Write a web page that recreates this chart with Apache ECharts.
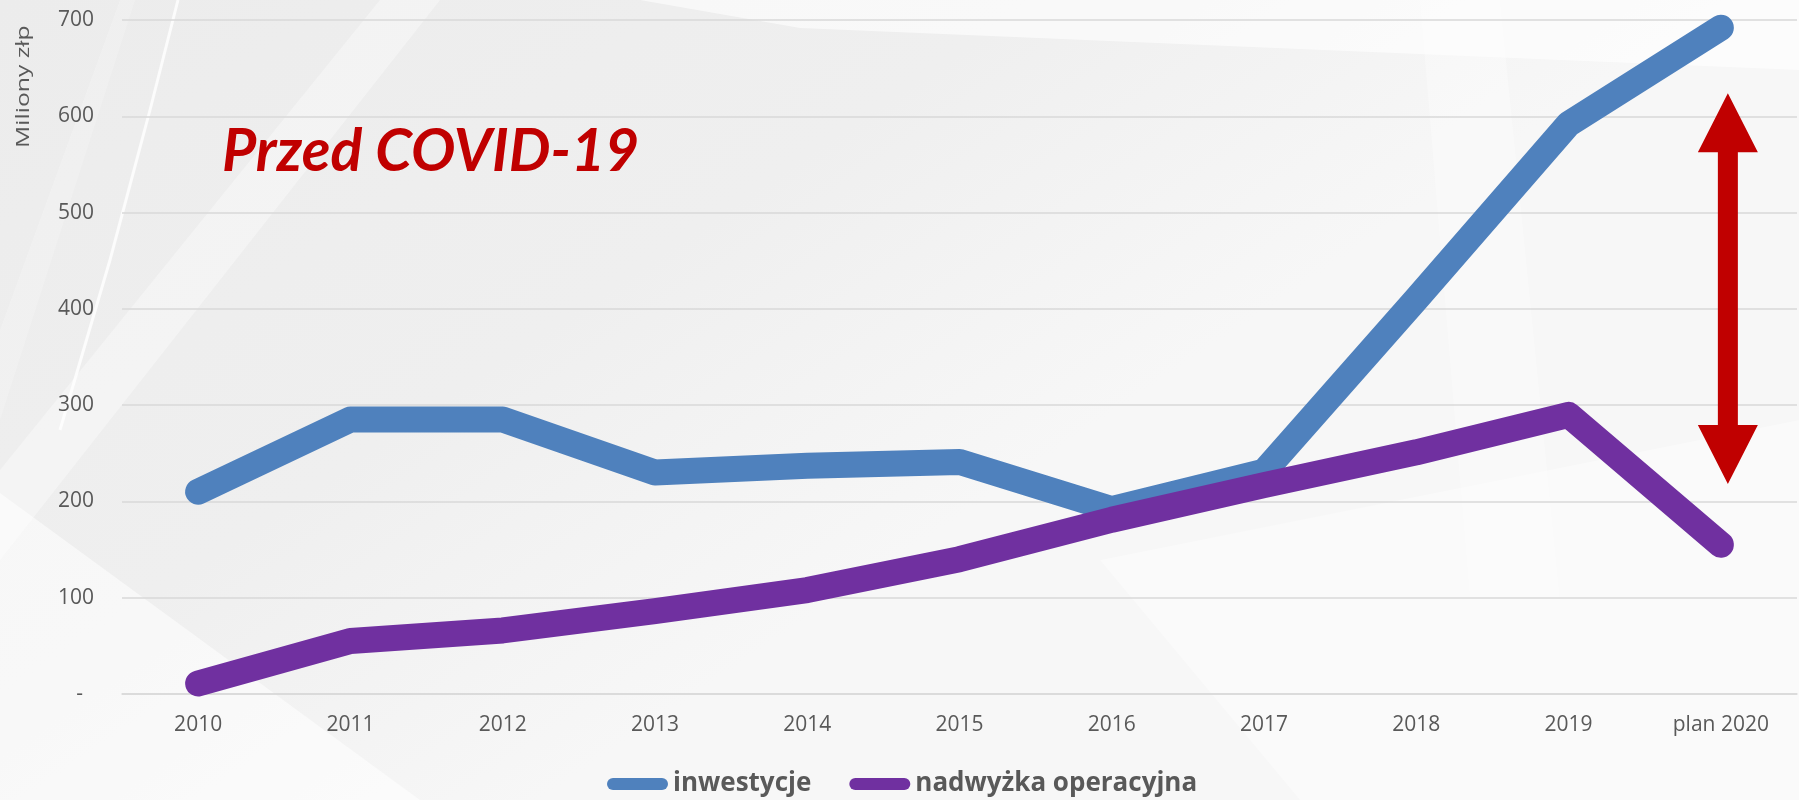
<!DOCTYPE html>
<html>
<head>
<meta charset="utf-8">
<script src="https://cdn.jsdelivr.net/npm/echarts@6/dist/echarts.min.js"></script>
<style>
html,body{margin:0;padding:0;background:#f0f0f0;}
#c{width:1799px;height:800px;}
</style>
</head>
<body>
<div id="c"></div>
<script>
const categories = ['2010','2011','2012','2013','2014','2015','2016','2017','2018','2019','plan 2020'];
const inwestycje = [210, 285, 285, 230, 237, 241, 192, 231, 410, 592, 692];
const nadwyzka   = [11, 55, 66, 86, 108, 140, 181, 217, 251, 290, 155];
const yTicks = [0, 100, 200, 300, 400, 500, 600, 700];
const arrowRange = [[10, 218, 624]]; // category index, low tip, high tip
const seriesNames = ['inwestycje', 'nadwyżka operacyjna'];
const annotationText = 'Przed COVID-19';
const yAxisTitle = 'Miliony złp';

const chart = echarts.init(document.getElementById('c'), null, {renderer: 'canvas'});
const pill = 'path://M6,0H55A6,6,0,0,1,55,12H6A6,6,0,0,1,6,0Z';

chart.setOption({
  backgroundColor: {
    type: 'linear', x: 0, y: 0, x2: 0.3, y2: 1,
    colorStops: [{offset: 0, color: '#ececec'}, {offset: 0.6, color: '#efefef'}, {offset: 1, color: '#f7f7f7'}]
  },
  animation: false,
  graphic: [
    {type: 'polygon', silent: true, z: -10, shape: {points: [[0,493],[0,800],[420,800]]}, style: {fill: 'rgba(255,255,255,0.55)'}},
    {type: 'polygon', silent: true, z: -10, shape: {points: [[0,470],[380,0],[440,0],[0,560]]}, style: {fill: 'rgba(255,255,255,0.35)'}},
    {type: 'polygon', silent: true, z: -10, shape: {points: [[0,330],[120,0],[135,0],[0,420]]}, style: {fill: 'rgba(255,255,255,0.2)'}},
    {type: 'polyline', silent: true, z: -10, shape: {points: [[178,0],[150,110],[110,260],[60,430]]}, style: {stroke: 'rgba(255,255,255,0.8)', lineWidth: 3, fill: null}},
    {type: 'polygon', silent: true, z: -10, shape: {points: [[640,0],[1799,0],[1799,70],[800,28]]}, style: {fill: 'rgba(255,255,255,0.6)'}},
    {type: 'polygon', silent: true, z: -10, shape: {points: [[1420,0],[1500,0],[1560,600],[1470,600]]}, style: {fill: 'rgba(255,255,255,0.3)'}},
    {type: 'polygon', silent: true, z: -10, shape: {points: [[1100,560],[1799,420],[1799,800],[1300,800]]}, style: {fill: 'rgba(255,255,255,0.35)'}},
    {
      type: 'text', z: 10, left: 222, top: 122,
      style: {text: annotationText, fill: '#C00000', font: 'italic bold 59px Lato'}
    },
    {
      type: 'text', z: 10, x: 14, y: 148, rotation: Math.PI / 2, scaleX: 1.3,
      style: {text: yAxisTitle, fill: '#595959', font: '19px "Open Sans"', verticalAlign: 'top', align: 'left'}
    }
  ],
  grid: {left: 122, right: 2, top: 20, bottom: 106, containLabel: false},
  legend: {
    left: 602, top: 766,
    itemWidth: 61, itemHeight: 12, itemGap: 38,
    textStyle: {color: '#595959', fontSize: 26, fontWeight: 'bold', fontFamily: 'Open Sans'},
    data: [
      {name: seriesNames[0], icon: pill, itemStyle: {color: '#4F81BD'}},
      {name: seriesNames[1], icon: pill, itemStyle: {color: '#7030A0'}}
    ]
  },
  xAxis: {
    type: 'category', data: categories, boundaryGap: true,
    axisLine: {show: true, lineStyle: {color: '#D9D9D9', width: 1.5}},
    axisTick: {show: false},
    axisLabel: {color: '#595959', fontSize: 21, fontFamily: 'Open Sans', margin: 21}
  },
  yAxis: {
    type: 'value', min: 0, max: 700, interval: 100,
    axisLine: {show: false}, axisTick: {show: false},
    splitLine: {lineStyle: {color: '#D9D9D9', width: 1.5}},
    axisLabel: {
      color: '#595959', fontSize: 21, fontFamily: 'Open Sans', margin: 28,
      formatter: v => yTicks.includes(v) ? (v === 0 ? '-  ' : String(v)) : ''
    }
  },
  series: [
    {
      name: seriesNames[0], type: 'line', data: inwestycje, symbol: 'none',
      lineStyle: {color: '#4F81BD', width: 26, cap: 'round', join: 'round'},
      itemStyle: {color: '#4F81BD'}, z: 3
    },
    {
      name: seriesNames[1], type: 'line', data: nadwyzka, symbol: 'none',
      lineStyle: {color: '#7030A0', width: 26, cap: 'round', join: 'round'},
      itemStyle: {color: '#7030A0'}, z: 4
    },
    {
      type: 'custom', z: 5, silent: true, data: arrowRange,
      renderItem: function (params, api) {
        const top = api.coord([api.value(0), api.value(2)]);
        const bot = api.coord([api.value(0), api.value(1)]);
        const cx = top[0] + 7;
        const hw = 30, sw = 10, hl = 59;
        const pts = [
          [cx, top[1]], [cx + hw, top[1] + hl], [cx + sw, top[1] + hl],
          [cx + sw, bot[1] - hl], [cx + hw, bot[1] - hl], [cx, bot[1]],
          [cx - hw, bot[1] - hl], [cx - sw, bot[1] - hl], [cx - sw, top[1] + hl],
          [cx - hw, top[1] + hl]
        ];
        return {type: 'polygon', shape: {points: pts}, style: {fill: '#C00000'}};
      }
    }
  ]
});
</script>
</body>
</html>
